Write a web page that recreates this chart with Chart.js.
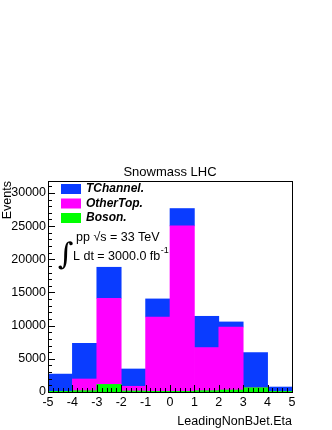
<!DOCTYPE html>
<html>
<head>
<meta charset="utf-8">
<script src="https://cdn.jsdelivr.net/npm/chart.js@4"></script>
<style>
  html, body { margin: 0; padding: 0; background: #fff; }
  #wrap { width: 332px; height: 430px; }
</style>
</head>
<body>
<div id="wrap"><canvas id="histo" width="332" height="430"></canvas></div>
<script>
// bin centres for eta bins of width 1 from -5 to 5
const binCenters = [-4.5, -3.5, -2.5, -1.5, -0.5, 0.5, 1.5, 2.5, 3.5, 4.5];
const xTicks = [-5, -4, -3, -2, -1, 0, 1, 2, 3, 4, 5];
const yTicks = [0, 5000, 10000, 15000, 20000, 25000, 30000];
const yMax = 31800;

// stacked contributions (bottom -> top: Boson, OtherTop, TChannel)
const boson    = [100, 200, 1150, 150, 100, 100, 200, 300, 650, 100];
const otherTop = [0, 1760, 12980, 710, 11210, 24940, 6490, 9500, 0, 0];
const tChannel = [2600, 5390, 4670, 2610, 2720, 2610, 4720, 760, 5280, 650];

const FONT = 'Liberation Sans, Arial, Helvetica, sans-serif';
const legendItems = [
  { label: 'TChannel.', color: '#0a3cff' },
  { label: 'OtherTop.', color: '#ff00ff' },
  { label: 'Boson.', color: '#00ff00' }
];

const toPoints = vals => vals.map((v, i) => ({ x: binCenters[i], y: v }));

// ROOT-like frame, inside ticks, legend and labels
const rootDecor = {
  id: 'rootDecor',
  afterDatasetsDraw(chart) {
    const ctx = chart.ctx;
    const a = chart.chartArea;
    const xs = chart.scales.x, ys = chart.scales.y;
    ctx.save();
    ctx.strokeStyle = '#000';
    ctx.lineWidth = 1;
    ctx.beginPath();
    // y ticks, minor every 1000
    for (let v = 0; v <= yMax; v += 1000) {
      const py = Math.round(ys.getPixelForValue(v)) + 0.5;
      const len = v % 5000 === 0 ? 7 : 4;
      ctx.moveTo(a.left, py);
      ctx.lineTo(a.left + len, py);
    }
    // x ticks, minor every 0.2
    for (let k = -25; k <= 25; k++) {
      const v = k / 5;
      const px = Math.round(xs.getPixelForValue(v)) + 0.5;
      const len = k % 5 === 0 ? 7 : 4;
      ctx.moveTo(px, a.bottom);
      ctx.lineTo(px, a.bottom - len);
    }
    ctx.stroke();
    ctx.strokeRect(Math.round(a.left) + 0.5, Math.round(a.top) + 0.5,
      Math.round(a.right - a.left), Math.round(a.bottom - a.top));
    ctx.restore();
  },
  afterDraw(chart) {
    const ctx = chart.ctx;
    const a = chart.chartArea;
    ctx.save();
    ctx.fillStyle = '#000';
    ctx.textBaseline = 'middle';
    ctx.textAlign = 'center';
    ctx.font = '13px ' + FONT;
    ctx.fillText('Snowmass LHC', (a.left + a.right) / 2, 172);

    // legend
    ctx.textAlign = 'left';
    legendItems.forEach((it, i) => {
      const cy = 189 + i * 14.5;
      ctx.fillStyle = it.color;
      ctx.fillRect(61, cy - 5, 20, 10);
      ctx.fillStyle = '#000';
      ctx.font = 'italic bold 12px ' + FONT;
      ctx.fillText(it.label, 86, cy);
    });

    // luminosity text
    ctx.font = '30px DejaVu Serif, serif';
    ctx.fillText('\u222B', 58, 256);
    ctx.font = '12.5px ' + FONT;
    ctx.fillText('pp \u221As = 33 TeV', 76, 238);
    ctx.fillText('L dt = 3000.0 fb', 73, 257);
    const w = ctx.measureText('L dt = 3000.0 fb').width;
    ctx.font = '9px ' + FONT;
    ctx.fillText('-1', 73 + w + 0.5, 251);
    ctx.restore();
  }
};

new Chart(document.getElementById('histo'), {
  type: 'bar',
  data: {
    datasets: [
      { label: 'Boson.', data: toPoints(boson), backgroundColor: '#00ff00' },
      { label: 'OtherTop.', data: toPoints(otherTop), backgroundColor: '#ff00ff' },
      { label: 'TChannel.', data: toPoints(tChannel), backgroundColor: '#0a3cff' }
    ]
  },
  options: {
    responsive: false,
    animation: false,
    layout: { padding: { top: 181, right: 40, left: 0, bottom: 0 } },
    datasets: { bar: { barPercentage: 1, categoryPercentage: 1, borderWidth: 0 } },
    plugins: { legend: { display: false }, tooltip: { enabled: false } },
    scales: {
      x: {
        type: 'linear',
        stacked: true,
        min: -5,
        max: 5,
        offset: false,
        afterBuildTicks: s => { s.ticks = xTicks.map(v => ({ value: v })); },
        afterFit: s => { s.height = 38; },
        grid: { display: false, drawTicks: false, offset: false },
        border: { display: false },
        ticks: { font: { family: FONT, size: 12.5 }, color: '#000', padding: 3, maxRotation: 0, autoSkip: false,
          callback: v => String(v) },
        title: {
          display: true, text: 'LeadingNonBJet.Eta', align: 'end', color: '#000',
          font: { family: FONT, size: 12.5 }, padding: { top: 0, bottom: 1 }
        }
      },
      y: {
        stacked: true,
        min: 0,
        max: yMax,
        afterBuildTicks: s => { s.ticks = yTicks.map(v => ({ value: v })); },
        afterFit: s => { s.width = 48; },
        grid: { display: false, drawTicks: false },
        border: { display: false },
        ticks: { font: { family: FONT, size: 12.5 }, color: '#000', padding: 2, callback: v => String(v) },
        title: {
          display: true, text: 'Events', align: 'end', color: '#000',
          font: { family: FONT, size: 12.5 }, padding: { top: 0, bottom: 0 }
        }
      }
    }
  },
  plugins: [rootDecor]
});
</script>
</body>
</html>
